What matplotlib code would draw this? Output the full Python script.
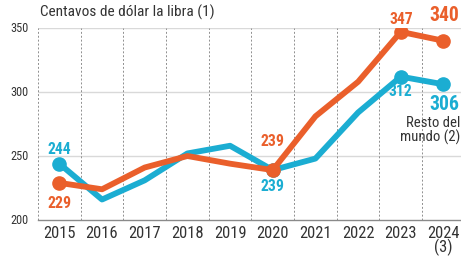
import matplotlib
matplotlib.use("Agg")
import matplotlib.pyplot as plt
from matplotlib.ticker import FixedLocator
from matplotlib import font_manager

years = [2015, 2016, 2017, 2018, 2019, 2020, 2021, 2022, 2023, 2024]
xlabels = ["2015", "2016", "2017", "2018", "2019", "2020", "2021", "2022", "2023", "2024\n(3)"]
orange_vals = [229, 224, 241, 250, 244, 239, 281, 308, 347, 340]
blue_vals = [244, 216, 231, 252, 258, 239, 248, 284, 312, 306]
marker_years = [2015, 2020, 2023, 2024]
yticks = [200, 250, 300, 350]

ORANGE = "#EA5F2B"
BLUE = "#1BADD2"
TXT = "#333333"

avail = {f.name for f in font_manager.fontManager.ttflist}
FONT = None
for cand in ["Liberation Sans Narrow", "Roboto Condensed", "Roboto", "Liberation Sans"]:
    if cand in avail:
        FONT = cand
        break
plt.rcParams["font.family"] = [FONT, "DejaVu Sans"] if FONT else ["DejaVu Sans"]

fig = plt.figure(figsize=(4.61, 2.58), dpi=100)
ax = fig.add_axes([38/461, 1-220/258, 1-38/461, (220-28)/258])
ax.set_xlim(2014.5, 2024.41)
ax.set_ylim(200, 350)

for s in ["top", "right", "left"]:
    ax.spines[s].set_visible(False)
ax.spines["bottom"].set_color("#8a8a8a")
ax.spines["bottom"].set_linewidth(1.0)

for y in yticks[1:]:
    ax.axhline(y, color="#d9d9d9", lw=1.0, zorder=0)
for x in range(2014, 2024):
    ax.axvline(x + 0.5, color="#8f8f8f", lw=0.7, ls=(0, (2, 2)), zorder=0)

ax.xaxis.set_major_locator(FixedLocator(years))
ax.set_xticklabels(xlabels, fontsize=10.5, color=TXT, linespacing=0.85)
ax.yaxis.set_major_locator(FixedLocator(yticks))
ax.set_yticklabels([str(v) for v in yticks], fontsize=8.5, color=TXT)
ax.tick_params(axis="both", length=0)
ax.tick_params(axis="x", pad=4)
ax.tick_params(axis="y", pad=7)
for lbl in ax.get_yticklabels():
    lbl.set_verticalalignment("center")

ax.plot(years, blue_vals, color=BLUE, lw=4.2, solid_joinstyle="round",
        solid_capstyle="round", zorder=3)
ax.plot(years, orange_vals, color=ORANGE, lw=4.2, solid_joinstyle="round",
        solid_capstyle="round", zorder=4)
bm = [blue_vals[years.index(y)] for y in marker_years]
om = [orange_vals[years.index(y)] for y in marker_years]
ax.plot(marker_years, bm, "o", color=BLUE, ms=9.5, zorder=3)
ax.plot(marker_years, om, "o", color=ORANGE, ms=9.5, zorder=4)

texts = []  # (text object, target width px)

def lab(x, y, t, c, target, size=10, dy=0, ha="center"):
    tt = ax.text(x, y + dy, t, color=c, fontsize=size, fontweight="bold", ha=ha,
                 va="center", clip_on=False)
    texts.append((tt, target))
    return tt

i15 = 0; i20 = 5; i23 = 8; i24 = 9
lab(2015, blue_vals[i15], str(blue_vals[i15]), BLUE, 24, dy=11)
lab(2015, orange_vals[i15], str(orange_vals[i15]), ORANGE, 24, dy=-16)
lab(2020, orange_vals[i20], str(orange_vals[i20]), ORANGE, 24, dy=22)
lab(2020, blue_vals[i20], str(blue_vals[i20]), BLUE, 24, dy=-13)
lab(2023, orange_vals[i23], str(orange_vals[i23]), ORANGE, 24, dy=10)
lab(2023, blue_vals[i23], str(blue_vals[i23]), BLUE, 24, dy=-12)
lab(2024.37, orange_vals[i24], str(orange_vals[i24]), ORANGE, 30, size=13, dy=20, ha="right")
lab(2024.37, blue_vals[i24], str(blue_vals[i24]), BLUE, 30, size=13, dy=-16, ha="right")
rm = ax.text(2024.40, 270, "Resto del\nmundo (2)", color=TXT, fontsize=9.5,
             ha="right", va="center", linespacing=0.95, clip_on=False)
texts.append((rm, 60))

title = fig.text(40/461, 1-12/258, "Centavos de dólar la libra (1)", fontsize=10,
                 color=TXT, ha="left", va="center")
texts.append((title, 174))

# calibrate font sizes to the reference widths
fig.canvas.draw()
r = fig.canvas.get_renderer()
for tt, target in texts:
    w = tt.get_window_extent(r).width
    if w > 0:
        tt.set_fontsize(tt.get_fontsize() * target / w)
xl0 = ax.get_xticklabels()[0]
w = xl0.get_window_extent(r).width
if w > 0:
    nsz = xl0.get_fontsize() * 33 / w
    for l in ax.get_xticklabels():
        l.set_fontsize(nsz)
yl0 = ax.get_yticklabels()[0]
w = yl0.get_window_extent(r).width
if w > 0:
    nsz = yl0.get_fontsize() * 18 / w
    for l in ax.get_yticklabels():
        l.set_fontsize(nsz)

fig.savefig("out.png", dpi=100, facecolor="white")
